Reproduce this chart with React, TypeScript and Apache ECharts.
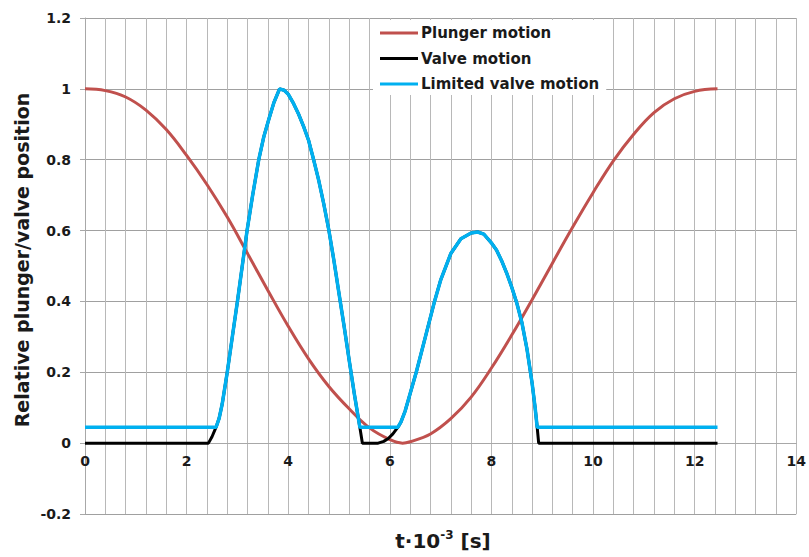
import React, { useEffect, useRef } from "react";
import * as echarts from "echarts";

// Time axis ticks (t·10^-3 s)
const xTicks = [0, 2, 4, 6, 8, 10, 12, 14];
const yTicks = [-0.2, 0, 0.2, 0.4, 0.6, 0.8, 1, 1.2];

const seriesNames = ["Plunger motion", "Valve motion", "Limited valve motion"];
const seriesColors = ["#C0504D", "#000000", "#00B0F0"];

// Plunger motion
const plungerT = [0, 0.4, 0.8, 1.2, 1.6, 2.0, 2.4, 2.8, 3.2, 3.6, 4.0, 4.4, 4.8, 5.2, 5.6, 6.0, 6.25, 6.4, 6.8, 7.2, 7.6, 8.0, 8.4, 8.8, 9.2, 9.6, 10.0, 10.4, 10.8, 11.2, 11.6, 12.0, 12.45];
const plungerV = [1.0, 0.995, 0.977, 0.94, 0.885, 0.812, 0.73, 0.638, 0.535, 0.431, 0.33, 0.238, 0.16, 0.097, 0.043, 0.01, 0.0, 0.004, 0.026, 0.069, 0.13, 0.212, 0.305, 0.405, 0.508, 0.61, 0.707, 0.797, 0.872, 0.933, 0.972, 0.993, 1.0];

// Valve motion
const valveT = [0, 2.43, 2.5, 2.58, 2.64, 2.7, 2.8, 2.9, 3.0, 3.1, 3.19, 3.3, 3.42, 3.52, 3.62, 3.72, 3.83, 3.92, 4.0, 4.1, 4.2, 4.3, 4.4, 4.5, 4.6, 4.7, 4.8, 4.9, 5.0, 5.1, 5.2, 5.3, 5.41, 5.46, 5.77, 5.88, 5.97, 6.06, 6.16, 6.22, 6.3, 6.4, 6.52, 6.7, 6.88, 7.0, 7.2, 7.4, 7.6, 7.73, 7.85, 8.0, 8.1, 8.2, 8.3, 8.4, 8.5, 8.6, 8.7, 8.8, 8.86, 8.9, 8.93, 12.45];
const valveV = [0, 0, 0.018, 0.045, 0.07, 0.11, 0.2, 0.3, 0.4, 0.505, 0.6, 0.7, 0.8, 0.865, 0.915, 0.962, 1.0, 0.996, 0.985, 0.96, 0.93, 0.895, 0.855, 0.8, 0.742, 0.675, 0.601, 0.515, 0.422, 0.33, 0.234, 0.14, 0.045, 0, 0, 0.005, 0.013, 0.026, 0.045, 0.06, 0.09, 0.14, 0.2, 0.3, 0.4, 0.46, 0.535, 0.577, 0.593, 0.596, 0.59, 0.565, 0.545, 0.515, 0.48, 0.44, 0.395, 0.34, 0.265, 0.17, 0.1, 0.045, 0, 0];

// Limited valve motion
const limitedT = [0, 2.58, 2.64, 2.7, 2.8, 2.9, 3.0, 3.1, 3.19, 3.3, 3.42, 3.52, 3.62, 3.72, 3.83, 3.92, 4.0, 4.1, 4.2, 4.3, 4.4, 4.5, 4.6, 4.7, 4.8, 4.9, 5.0, 5.1, 5.2, 5.3, 5.41, 6.16, 6.22, 6.3, 6.4, 6.52, 6.7, 6.88, 7.0, 7.2, 7.4, 7.6, 7.73, 7.85, 8.0, 8.1, 8.2, 8.3, 8.4, 8.5, 8.6, 8.7, 8.8, 8.86, 8.9, 12.45];
const limitedV = [0.045, 0.045, 0.07, 0.11, 0.2, 0.3, 0.4, 0.505, 0.6, 0.7, 0.8, 0.865, 0.915, 0.962, 1.0, 0.996, 0.985, 0.96, 0.93, 0.895, 0.855, 0.8, 0.742, 0.675, 0.601, 0.515, 0.422, 0.33, 0.234, 0.14, 0.045, 0.045, 0.06, 0.09, 0.14, 0.2, 0.3, 0.4, 0.46, 0.535, 0.577, 0.593, 0.596, 0.59, 0.565, 0.545, 0.515, 0.48, 0.44, 0.395, 0.34, 0.265, 0.17, 0.1, 0.045, 0.045];

const zip = (xs: number[], ys: number[]) => xs.map((x, i) => [x, ys[i]]);

const FONT = "DejaVu Sans";
const TXT = "#1a1a1a";
const GRID = "#a8a8a8";

export default function App() {
  const ref = useRef<HTMLDivElement>(null);
  useEffect(() => {
    if (!ref.current) return;
    const chart = echarts.init(ref.current, undefined, { renderer: "svg" });
    chart.setOption({
      animation: false,
      backgroundColor: "#ffffff",
      grid: { left: 85, right: 9, top: 18, bottom: 43, containLabel: false },
      legend: {
        orient: "vertical",
        left: 373,
        top: 20,
        padding: [5, 7, 3, 7],
        backgroundColor: "#ffffff",
        icon: "rect",
        itemWidth: 38,
        itemHeight: 3,
        itemGap: 9.5,
        data: seriesNames,
        textStyle: { fontFamily: FONT, fontWeight: "bold", fontSize: 15, color: TXT, lineHeight: 16, padding: [0, 0, 0, -2] },
      },
      xAxis: {
        type: "value",
        min: xTicks[0],
        max: xTicks[xTicks.length - 1],
        interval: 2,
        offset: -71,
        axisLine: { show: true, onZero: false, lineStyle: { color: GRID, width: 1 } },
        axisTick: { show: false },
        minorTick: { show: false, splitNumber: 5 },
        splitLine: { show: true, lineStyle: { color: "#b8b8b8", width: 1 } },
        minorSplitLine: { show: true, lineStyle: { color: "#b8b8b8", width: 1 } },
        axisLabel: { fontFamily: FONT, fontWeight: "bold", fontSize: 14, color: TXT, margin: 11 },
      },
      yAxis: {
        type: "value",
        min: yTicks[0],
        max: yTicks[yTicks.length - 1],
        interval: 0.2,
        axisLine: { show: true, onZero: false, lineStyle: { color: GRID, width: 1 } },
        axisTick: { show: true, inside: false, length: 5, lineStyle: { color: GRID } },
        splitLine: { show: true, lineStyle: { color: "#a0a0a0", width: 1 } },
        axisLabel: {
          fontFamily: FONT, fontWeight: "bold", fontSize: 14, color: TXT, margin: 14,
          formatter: (v: number) => String(Math.round(v * 10) / 10),
        },
      },
      graphic: [
        {
          type: "text",
          x: 443,
          y: 541,
          style: {
            text: "{a|t·10}{b|-3}{a| [s]}",
            align: "center",
            verticalAlign: "middle",
            fill: TXT,
            rich: {
              a: { fontFamily: FONT, fontWeight: "bold", fontSize: 20, lineHeight: 24, fill: TXT },
              b: { fontFamily: FONT, fontWeight: "bold", fontSize: 12, lineHeight: 14, verticalAlign: "top", fill: TXT },
            },
          },
        },
        {
          type: "text",
          x: 22,
          y: 260,
          rotation: Math.PI / 2,
          style: {
            text: "Relative plunger/valve position",
            align: "center",
            verticalAlign: "middle",
            fill: TXT,
            font: `bold 19px "${FONT}"`,
          },
        },
      ],
      series: [
        {
          name: seriesNames[0], type: "line", data: zip(plungerT, plungerV), symbol: "none", smooth: 0.4,
          lineStyle: { color: seriesColors[0], width: 3 }, itemStyle: { color: seriesColors[0] },
        },
        {
          name: seriesNames[1], type: "line", data: zip(valveT, valveV), symbol: "none", smooth: false,
          lineStyle: { color: seriesColors[1], width: 3 }, itemStyle: { color: seriesColors[1] },
        },
        {
          name: seriesNames[2], type: "line", data: zip(limitedT, limitedV), symbol: "none", smooth: false,
          lineStyle: { color: seriesColors[2], width: 3.5 }, itemStyle: { color: seriesColors[2] },
        },
      ],
    });
    return () => chart.dispose();
  }, []);
  return <div ref={ref} style={{ position: "fixed", left: 0, top: 0, width: 809, height: 557 }} />;
}
